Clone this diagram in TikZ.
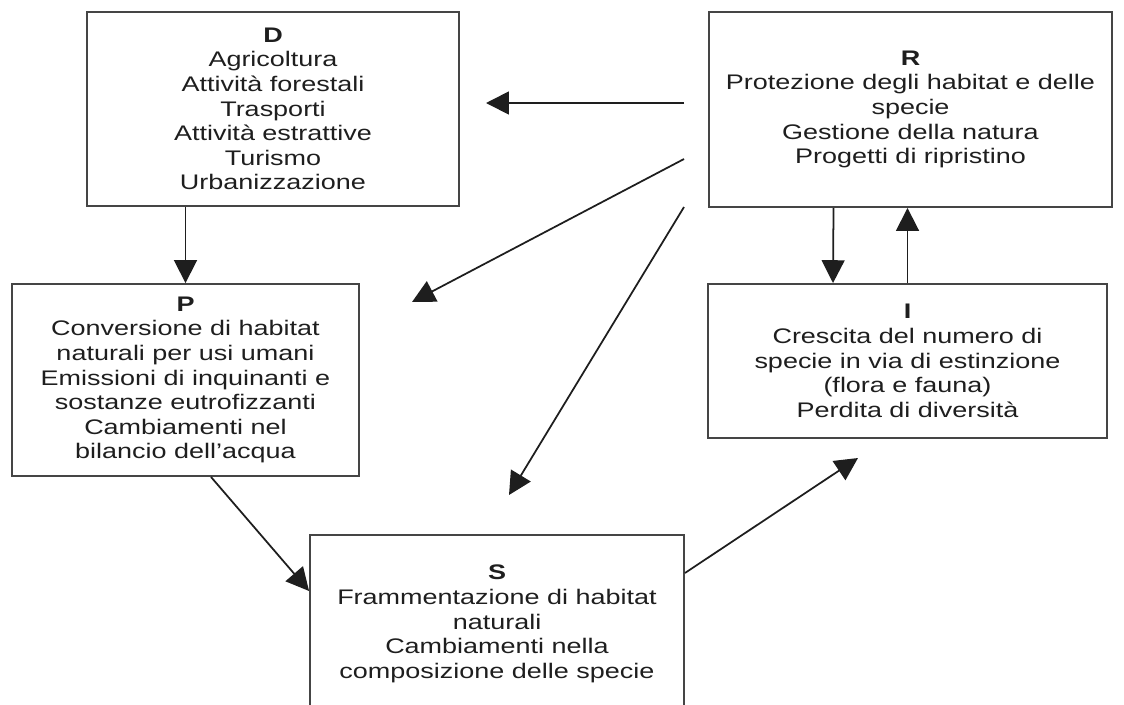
\documentclass[tikz,border=0pt]{standalone}
\usepackage{fontspec}
\setmainfont[FakeStretch=1.28]{Liberation Sans}
\usetikzlibrary{arrows.meta,positioning,calc}
\definecolor{ink}{HTML}{1E1E1E}
\definecolor{edge}{HTML}{454545}
\tikzset{box/.style={draw=edge,line width=1.1pt,align=center,font=\fontsize{12}{14}\selectfont,text=ink,inner sep=0pt},arr/.style={-{Triangle[length=13pt,width=13pt]},line width=1pt,draw=ink}}
\begin{document}
\begin{tikzpicture}[x=0.02cm,y=-0.02cm]
\useasboundingbox (0,0) rectangle (1124,704);
\clip (0,0) rectangle (1124,704);
\node[box,minimum width=7.44cm,minimum height=3.88cm] (d) at (273,109) {\textbf{D}\\Agricoltura\\Attività forestali\\Trasporti\\Attività estrattive\\Turismo\\Urbanizzazione};
\node[box,minimum width=8.06cm,minimum height=3.9cm] (r) at (910.5,109.5) {\textbf{R}\\Protezione degli habitat e delle\\specie\\Gestione della natura\\Progetti di ripristino};
\node[box,minimum width=6.94cm,minimum height=3.84cm] (p) at (185.5,380) {\textbf{P}\\Conversione di habitat\\naturali per usi umani\\Emissioni di inquinanti e\\sostanze eutrofizzanti\\Cambiamenti nel\\bilancio dell’acqua};
\node[box,minimum width=7.98cm,minimum height=3.08cm] (i) at (907.5,361) {\textbf{I}\\Crescita del numero di\\specie in via di estinzione\\(flora e fauna)\\Perdita di diversità};
\node[box,minimum width=7.48cm,minimum height=3.56cm] (s) at (497,624) {\textbf{S}\\Frammentazione di habitat\\naturali\\Cambiamenti nella\\composizione delle specie};
% free ends of the arrows leaving R
\coordinate (r1) at (684,103);
\coordinate (r2) at (684,159);
\coordinate (r3) at (684,207);
\coordinate (d1) at (486,103);
\coordinate (p1) at (412,302);
\coordinate (s1) at (509,495);
\coordinate (i1) at (858,458);
\draw[arr] (r1) -- (d1);
\draw[arr] (r2) -- (p1);
\draw[arr] (r3) -- (s1);
\draw[arr] (d.south -| p.north) -- (p.north);
\draw[arr] ($(r.south)+(-77,0)$) -- ($(i.north)+(-74.5,0)$);
\draw[arr] (i.north) -- (r.south -| i.north);
\draw[arr] ($(p.south)+(25.5,0)$) -- ($(s.west)+(0,-33)$);
\draw[arr] ($(s.east)+(0,-51)$) -- (i1);
\end{tikzpicture}
\end{document}
